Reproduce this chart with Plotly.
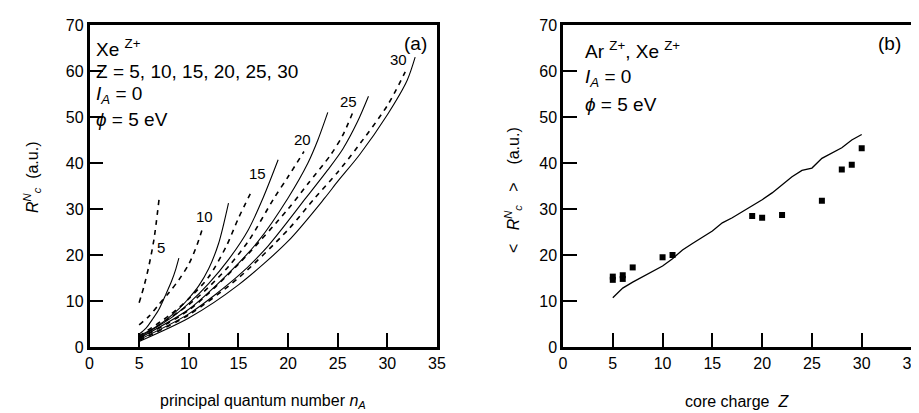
import plotly.graph_objects as go

# ---------------- Panel (a): R_c^N vs n_A for Xe^Z+ ----------------
n_z5_dash = [5, 5.5, 6, 6.5, 7]
r_z5_dash = [9.6, 13.3, 17.8, 23.5, 32]
n_z5_solid = [5, 5.7, 6.4, 7, 7.7, 8.3, 8.7, 9]
r_z5_solid = [2.8, 4.1, 6.2, 8.2, 11.5, 14.5, 17, 19.3]

n_z10_dash = [5, 6, 7, 8, 9, 10, 10.8, 11.4]
r_z10_dash = [4.8, 6.7, 9.3, 11.8, 14.6, 18, 22, 25.9]
n_z10_solid = [5, 7, 9, 10, 11, 12, 13, 14]
r_z10_solid = [2.4, 4.8, 8.3, 10.6, 13.3, 17, 22.5, 31.3]

n_z15_dash = [5, 8, 10, 12, 13.8, 15, 16.4]
r_z15_dash = [2.4, 6.8, 10.5, 15.2, 22, 28, 34.2]
n_z15_solid = [5, 8, 10, 12, 14, 16, 17.5, 19]
r_z15_solid = [2.1, 6, 9.5, 13.8, 19, 25.5, 32.5, 40.7]

n_z20_dash = [5, 10, 12, 14, 16, 18.6, 20, 21.6]
r_z20_dash = [2.0, 9.2, 13, 17.5, 23, 32.4, 37, 42.5]
n_z20_solid = [5, 10, 14, 17, 20, 22, 23, 24]
r_z20_solid = [1.9, 8.2, 16, 23, 32.4, 40, 45, 51]

n_z25_dash = [5, 10, 15, 20, 22, 24.3, 25.5, 26.5]
r_z25_dash = [1.8, 8, 18, 30, 35.5, 41.8, 46, 50.9]
n_z25_solid = [5, 10, 15, 18, 21.8, 24, 25.5, 27, 28.1]
r_z25_solid = [1.6, 7.2, 15.5, 22, 32.4, 38.5, 43, 49, 54.5]

n_z30_dash = [5, 10, 15, 20, 22.7, 25, 27, 30, 31.8]
r_z30_dash = [1.4, 7, 15, 25.5, 32.4, 38, 43.5, 52.5, 59.8]
n_z30_solid = [5, 10, 15, 20, 23.7, 25, 27.2, 30, 32, 32.8]
r_z30_solid = [1.2, 6.3, 13.5, 23, 32.4, 36, 41.8, 50.5, 58, 63]

curve_labels = ["5", "10", "15", "20", "25", "30"]
label_n = [7.2, 11.6, 16.95, 21.5, 26.1, 31.1]
label_r = [21.7, 28.4, 37.8, 45.2, 53.3, 62.4]

# ---------------- Panel (b): <R_c^N> vs core charge Z ----------------
z_line = list(range(5, 31))
r_line = [10.7, 12.8, 14.1, 15.3, 16.4, 17.6, 19.2, 21.1, 22.5, 23.8, 25.2, 27.0, 28.1,
          29.4, 30.7, 32.0, 33.5, 35.2, 37.0, 38.4, 38.9, 41.0, 42.2, 43.3, 45.0, 46.2]
z_pts = [5, 6, 7, 10, 11, 19, 20, 22, 26, 28, 29, 30]
r_pts = [15.3, 15.6, 17.3, 19.5, 20.0, 28.5, 28.1, 28.7, 31.8, 38.6, 39.6, 43.2]
z_pts2 = [5, 6]
r_pts2 = [14.6, 14.8]

x_ticks = [0, 5, 10, 15, 20, 25, 30, 35]
y_ticks = [0, 10, 20, 30, 40, 50, 60, 70]

FONT = "Liberation Sans, Arial, sans-serif"
W, H = 919, 413

fig = go.Figure()

pairs = [
    (n_z5_dash, r_z5_dash, n_z5_solid, r_z5_solid),
    (n_z10_dash, r_z10_dash, n_z10_solid, r_z10_solid),
    (n_z15_dash, r_z15_dash, n_z15_solid, r_z15_solid),
    (n_z20_dash, r_z20_dash, n_z20_solid, r_z20_solid),
    (n_z25_dash, r_z25_dash, n_z25_solid, r_z25_solid),
    (n_z30_dash, r_z30_dash, n_z30_solid, r_z30_solid),
]
for nd, rd, ns, rs in pairs:
    fig.add_trace(go.Scatter(x=nd, y=rd, mode="lines", xaxis="x", yaxis="y",
                             line=dict(color="black", width=1.6, dash="5px,5px",
                                       shape="spline", smoothing=0.8),
                             showlegend=False, hoverinfo="skip"))
    fig.add_trace(go.Scatter(x=ns, y=rs, mode="lines", xaxis="x", yaxis="y",
                             line=dict(color="black", width=1.1,
                                       shape="spline", smoothing=0.8),
                             showlegend=False, hoverinfo="skip"))

fig.add_trace(go.Scatter(x=z_line, y=r_line, mode="lines", xaxis="x2", yaxis="y2",
                         line=dict(color="black", width=1.3),
                         showlegend=False, hoverinfo="skip"))
fig.add_trace(go.Scatter(x=z_pts2, y=r_pts2, mode="markers", xaxis="x2", yaxis="y2",
                         marker=dict(symbol="square", size=6, color="black"),
                         showlegend=False, hoverinfo="skip"))
fig.add_trace(go.Scatter(x=z_pts, y=r_pts, mode="markers", xaxis="x2", yaxis="y2",
                         marker=dict(symbol="square", size=6, color="black"),
                         showlegend=False, hoverinfo="skip"))


def px_x(p):
    return p / W


def px_y(p):
    return 1 - p / H


def axis_cfg(domain, anchor, vals, rng):
    return dict(
        showline=True, linecolor="black", linewidth=2.5, mirror=True,
        ticks="inside", ticklen=14, tickwidth=2, tickcolor="black",
        showgrid=False, zeroline=False,
        tickfont=dict(family=FONT, size=16, color="black"),
        tickmode="array", tickvals=vals, range=rng, fixedrange=True,
        automargin=False, domain=domain, anchor=anchor,
    )


xa = [px_x(81.5), px_x(429)]
xb = [px_x(555), px_x(903.5)]
yd = [px_y(339), px_y(17)]
fig.update_layout(
    width=W, height=H,
    margin=dict(l=0, r=0, t=0, b=0),
    paper_bgcolor="white", plot_bgcolor="white",
    font=dict(family=FONT, color="black"),
    xaxis=axis_cfg(xa, "y", x_ticks, [0, 35]),
    yaxis=axis_cfg(yd, "x", y_ticks, [0, 70]),
    xaxis2=axis_cfg(xb, "y2", x_ticks, [0, 35]),
    yaxis2=axis_cfg(yd, "x2", y_ticks, [0, 70]),
)

ann = []
for t, xv, yv in zip(curve_labels, label_n, label_r):
    ann.append(dict(x=xv, y=yv, xref="x", yref="y", text=t, showarrow=False,
                    font=dict(family=FONT, size=15, color="black"),
                    xanchor="center", yanchor="middle"))


def paper_text(text, x, y, size=19, xanchor="left", angle=0):
    ann.append(dict(x=px_x(x), y=px_y(y), xref="paper", yref="paper", text=text,
                    showarrow=False, font=dict(family=FONT, size=size, color="black"),
                    xanchor=xanchor, yanchor="middle", textangle=angle))


paper_text("Xe <sup>Z+</sup>", 86, 40)
paper_text("Z = 5, 10, 15, 20, 25, 30", 86, 63)
paper_text("<i>I</i><sub><i>A</i></sub> = 0", 86, 87)
paper_text("<i>\u03d5</i> = 5 eV", 86, 112)
paper_text("(a)", 421, 35, xanchor="right")

paper_text("Ar <sup>Z+</sup>, Xe <sup>Z+</sup>", 575, 42)
paper_text("<i>I</i><sub><i>A</i></sub> = 0", 575, 70)
paper_text("<i>\u03d5</i> = 5 eV", 575, 96)
paper_text("(b)", 895, 35, xanchor="right")

paper_text("principal quantum number <i>n</i><sub><i>A</i></sub>", 255, 393, size=16, xanchor="center")
paper_text("core charge\u00a0\u00a0<i>Z</i>", 729, 393, size=16, xanchor="center")
paper_text("<i>R</i><sup><i>N</i></sup><sub><i>c</i></sub>\u00a0 (a.u.)", 24, 170, size=16, xanchor="center", angle=-90)
paper_text("<\u00a0\u00a0\u00a0<i>R</i><sup><i>N</i></sup><sub><i>c</i></sub>\u00a0\u00a0\u00a0>\u00a0\u00a0\u00a0\u00a0(a.u.)",
           505, 182, size=16, xanchor="center", angle=-90)

fig.update_layout(annotations=ann)
fig.write_html("out.html")
